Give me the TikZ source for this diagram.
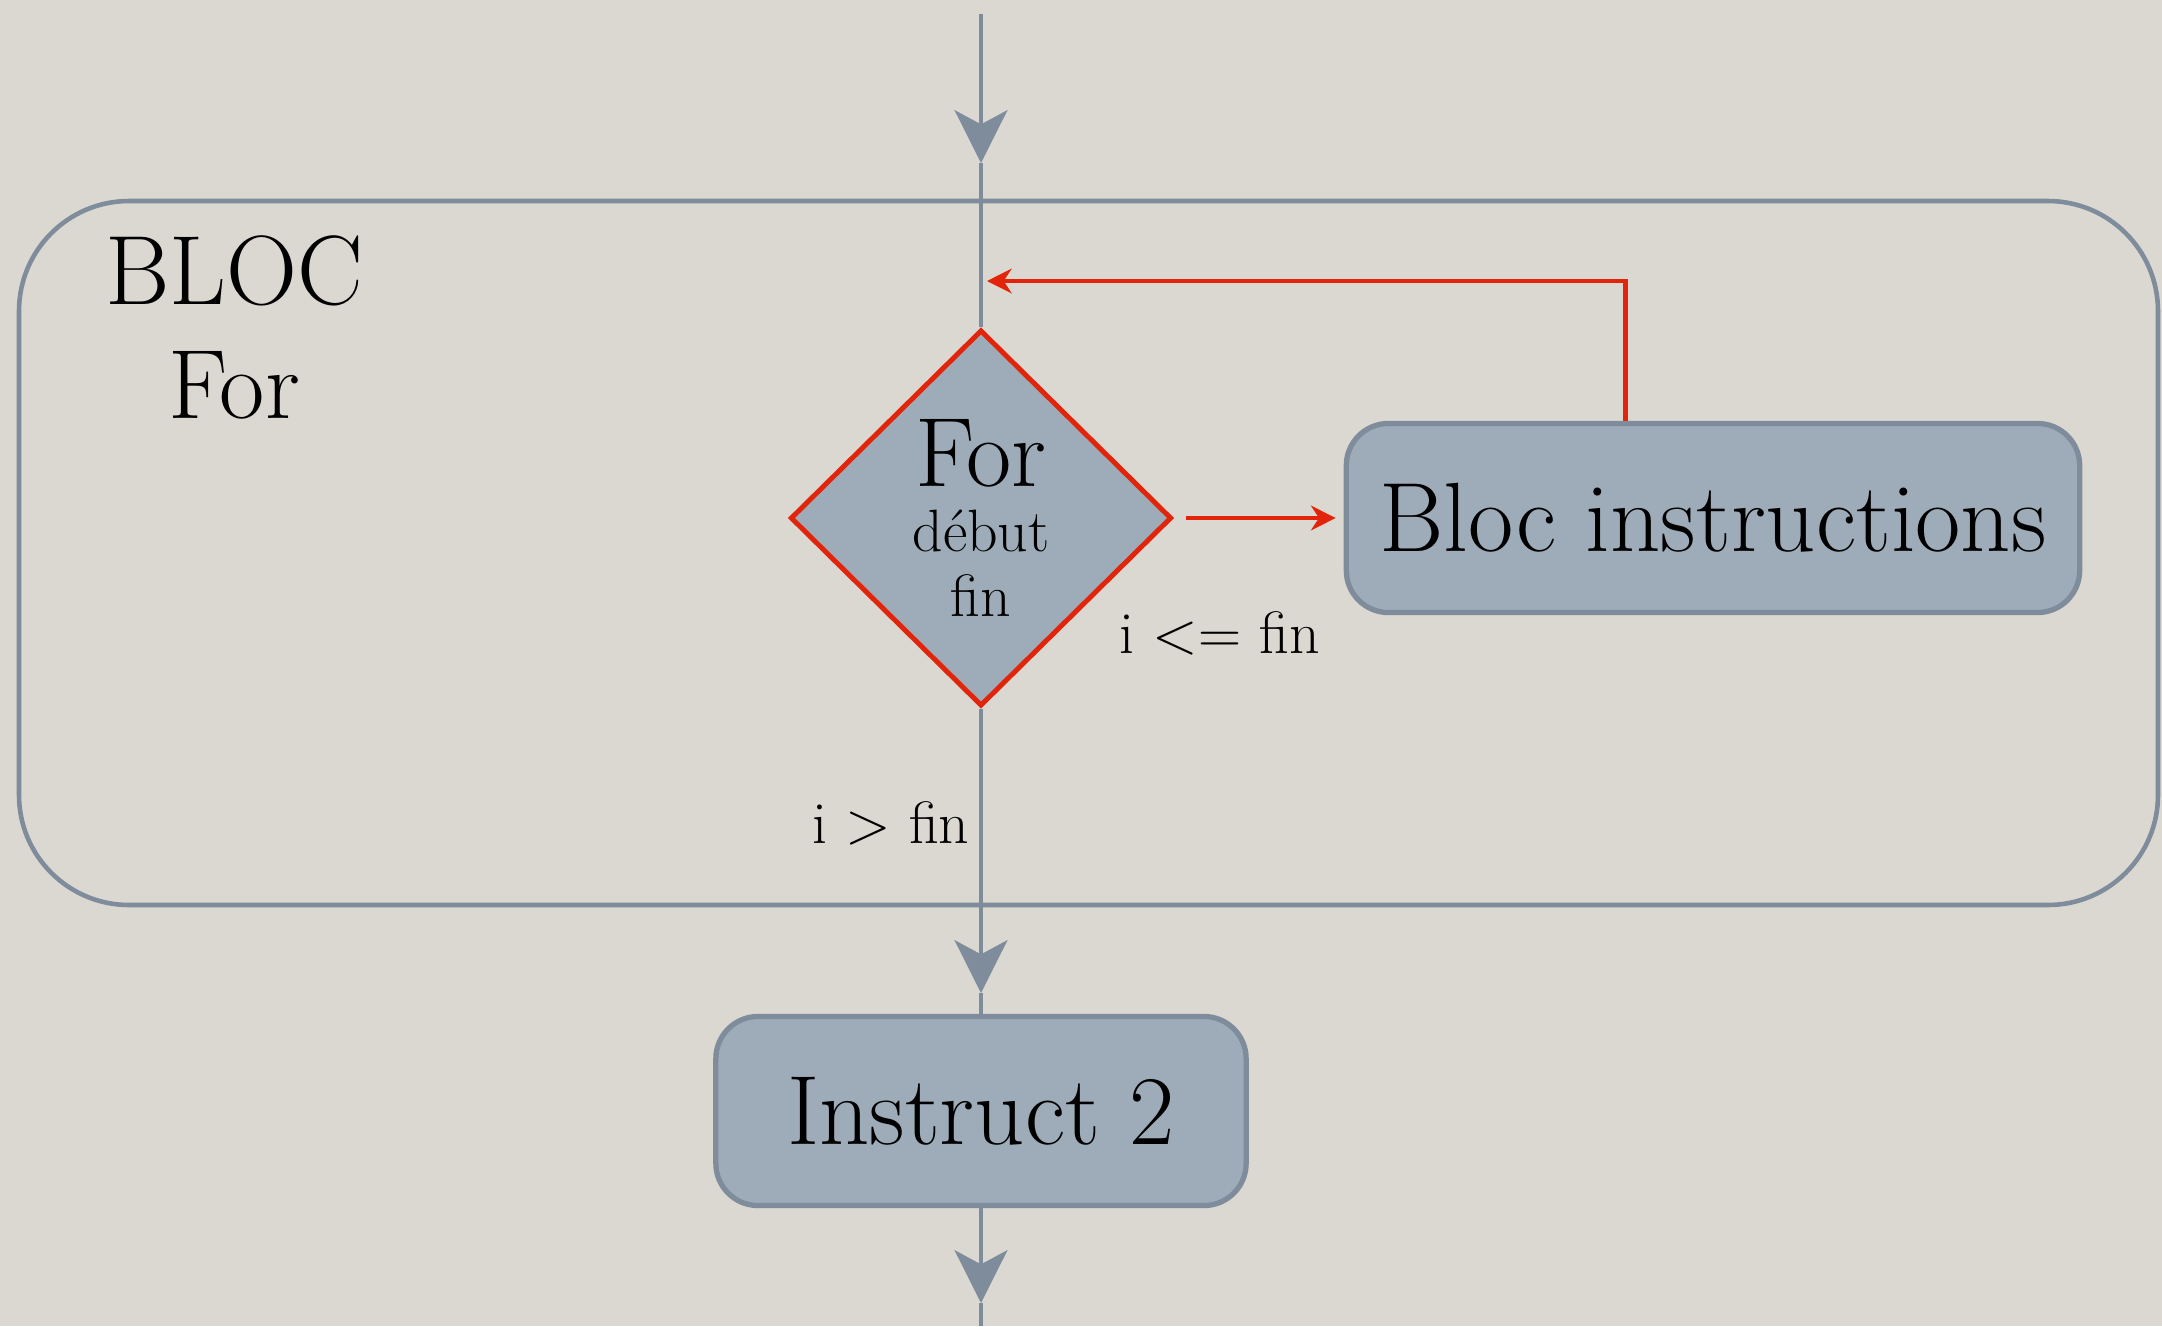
\documentclass[tikz,border=0pt]{standalone}
\usepackage{tikz}
\usetikzlibrary{arrows.meta,positioning,shapes.geometric}
\definecolor{paper}{RGB}{219,216,209}
\definecolor{slate}{RGB}{157,172,184}
\definecolor{slateline}{RGB}{126,140,155}
\definecolor{loopred}{RGB}{226,36,10}

\begin{document}
\begin{tikzpicture}[
  x=0.01cm, y=-0.01cm,
  instr/.style={
    draw=slateline, fill=slate, rounded corners=12pt, line width=1.5pt,
    minimum height=1.89cm, font=\fontsize{28}{32}\selectfont, inner sep=0pt
  },
  test/.style={
    diamond, draw=loopred, fill=slate, line width=1.4pt,
    minimum width=3.81cm, minimum height=3.76cm, inner sep=0pt,
    align=center, font=\fontsize{17}{18.6}\selectfont
  },
  frame/.style={draw=slateline, line width=1.3pt, rounded corners=1.1cm},
  flow/.style={-{Stealth[length=15pt,width=15pt,inset=4pt]}, line width=1.3pt, slateline},
  plain/.style={line width=1.3pt, slateline},
  back/.style={-{Stealth[length=7pt,width=7pt]}, line width=1.4pt, loopred},
  lbl/.style={font=\fontsize{17}{20}\selectfont, inner sep=0pt},
]

\useasboundingbox (0,0) rectangle (2162,1326);
\fill[paper] (0,0) rectangle (2162,1326);

% the for block
\draw[frame] (19,201) rectangle (2158,905);
\node[font=\fontsize{28}{32.4}\selectfont, align=center, inner sep=0pt] (title) at (234,327) {BLOC\\For};

\node[test]  (cond) at (981,518)  {{\fontsize{28}{18.6}\selectfont For}\\début\\fin};
\node[instr, minimum width=7.33cm] (body) at (1713,518) {Bloc instructions};
\node[instr, minimum width=5.30cm] (next) at (981,1111) {Instruct 2};

\node[lbl] (yes) at (1220,633) {i <= fin};
\node[lbl] (no)  at (891,823)  {i > fin};

% main flow
\coordinate (entry) at (981,14);
\coordinate (tipa)  at (981,163);
\coordinate (tipb)  at (981,993);
\coordinate (tipc)  at (981,1303);
\coordinate (exit)  at (981,1326);

\draw[flow]  (entry) -- (tipa);
\draw[plain] (tipa) -- (cond.north);
\draw[flow]  (cond.south) -- (tipb);
\draw[plain] (tipb) -- (next.north);
\draw[flow]  (next.south) -- (tipc);
\draw[plain] (tipc) -- (exit);

% loop
\coordinate (ret) at (987,281);
\draw[back, shorten <=0.12cm, shorten >=0.08cm] (cond.east) -- (body.west);
\draw[back] ([xshift=-0.87cm]body.north) |- (ret);

\end{tikzpicture}
\end{document}
